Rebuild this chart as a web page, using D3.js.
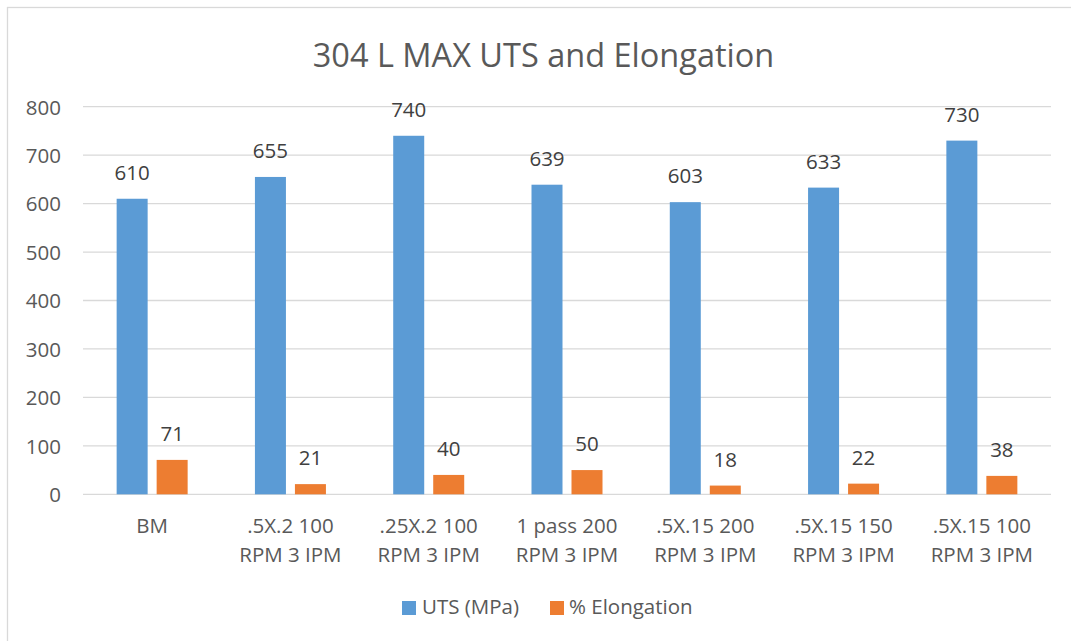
<!DOCTYPE html>
<html>
<head>
<meta charset="utf-8">
<script src="https://cdn.jsdelivr.net/npm/d3@7"></script>
<style>
  html, body { margin: 0; padding: 0; background: #fff; }
  svg { display: block; font-family: "Open Sans", "Liberation Sans", sans-serif; }
</style>
</head>
<body>
<svg id="chart" width="1071" height="641"></svg>
<script>
// Tensile test results for 304 L, per weld condition
const categories = ["BM", ".5X.2 100 RPM 3 IPM", ".25X.2 100 RPM 3 IPM", "1 pass 200 RPM 3 IPM",
                    ".5X.15 200 RPM 3 IPM", ".5X.15 150 RPM 3 IPM", ".5X.15 100 RPM 3 IPM"];
const utsValues = [610, 655, 740, 639, 603, 633, 730];
const elongationValues = [71, 21, 40, 50, 18, 22, 38];
const seriesNames = ["UTS (MPa)", "% Elongation"];
const seriesColors = ["#5B9BD5", "#ED7D31"];
const yTicks = [0, 100, 200, 300, 400, 500, 600, 700, 800];
const chartTitle = "304 L MAX UTS and Elongation";

const svg = d3.select("#chart");
const W = 1071, H = 641;
const plot = { left: 83, right: 1051, top: 106.7, bottom: 494.3 };
const textColor = "#595959";
const labelColor = "#404040";
const gridColor = "#d9d9d9";
const numSize = 20.5, textSize = 20.5;

// outer chart frame
svg.append("rect")
  .attr("x", 7.5).attr("y", 7.5)
  .attr("width", W + 20).attr("height", H + 20)
  .attr("fill", "#fff").attr("stroke", gridColor).attr("stroke-width", 1.3);

const x = d3.scaleBand().domain(categories).range([plot.left, plot.right]).paddingInner(0).paddingOuter(0);
const y = d3.scaleLinear().domain([0, 800]).range([plot.bottom, plot.top]);

const barW = 31, barGap = 9;
const offsets = [-(barW + barGap) / 2, (barW + barGap) / 2];

// gridlines
svg.append("g").selectAll("line").data(yTicks).join("line")
  .attr("x1", plot.left).attr("x2", plot.right)
  .attr("y1", d => y(d)).attr("y2", d => y(d))
  .attr("stroke", gridColor).attr("stroke-width", 1.3);

// y axis labels
const yAxis = d3.axisLeft(y).tickValues(yTicks).tickSize(0).tickPadding(0);
const gy = svg.append("g").attr("transform", `translate(61,0)`).call(yAxis);
gy.select(".domain").remove();
gy.selectAll("text").attr("fill", textColor).attr("font-size", numSize)
  .attr("font-family", "Open Sans").attr("dy", "0.36em");

const data = categories.map((c, i) => ({ cat: c, vals: [utsValues[i], elongationValues[i]] }));

// bars with value labels
seriesNames.forEach((name, s) => {
  const g = svg.append("g");
  g.selectAll("rect").data(data).join("rect")
    .attr("x", d => x(d.cat) + x.bandwidth() / 2 + offsets[s] - barW / 2)
    .attr("y", d => y(d.vals[s]))
    .attr("width", barW)
    .attr("height", d => y(0) - y(d.vals[s]))
    .attr("fill", seriesColors[s]);
  g.selectAll("text").data(data).join("text")
    .attr("x", d => x(d.cat) + x.bandwidth() / 2 + offsets[s])
    .attr("y", d => y(d.vals[s]) - 19)
    .attr("text-anchor", "middle")
    .attr("font-size", numSize).attr("fill", labelColor)
    .text(d => d.vals[s]);
});

// category labels, wrapped to the band width
const gx = svg.append("g");
categories.forEach(c => {
  const words = c.split(" ");
  const lines = [];
  let line = [];
  const t = gx.append("text").attr("font-size", textSize).attr("fill", textColor)
    .attr("text-anchor", "middle").attr("x", x(c) + x.bandwidth() / 2);
  const probe = t.append("tspan");
  words.forEach(w => {
    const trial = line.concat([w]).join(" ");
    probe.text(trial);
    if (probe.node().getComputedTextLength() > x.bandwidth() * 0.85 && line.length) {
      lines.push(line.join(" "));
      line = [w];
    } else {
      line.push(w);
    }
  });
  lines.push(line.join(" "));
  probe.remove();
  lines.forEach((l, i) => {
    t.append("tspan").attr("x", x(c) + x.bandwidth() / 2)
      .attr("y", 533 + i * 29).text(l);
  });
});

// title
svg.append("text").attr("x", 543.5).attr("y", 67)
  .attr("text-anchor", "middle").attr("font-size", 32.5).attr("fill", textColor)
  .text(chartTitle);

// legend
const legendItems = [{ x: 402, tx: 422 }, { x: 550, tx: 569 }];
seriesNames.forEach((name, s) => {
  svg.append("rect").attr("x", legendItems[s].x).attr("y", 601)
    .attr("width", 14).attr("height", 14).attr("fill", seriesColors[s]);
  svg.append("text").attr("x", legendItems[s].tx).attr("y", 614)
    .attr("font-size", textSize).attr("fill", textColor).text(name);
});
</script>
</body>
</html>
